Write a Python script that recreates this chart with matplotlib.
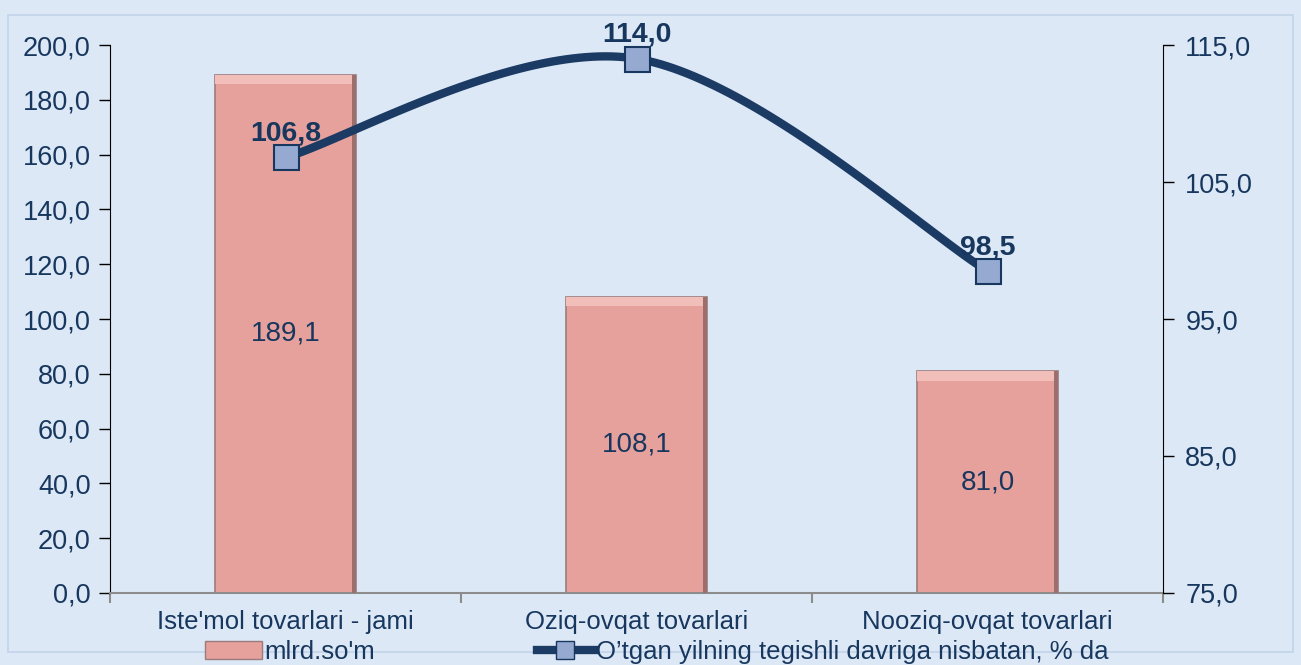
import numpy as np
import matplotlib.pyplot as plt
from matplotlib.patches import Rectangle
from matplotlib.lines import Line2D

# data
categories = ["Iste'mol tovarlari - jami", "Oziq-ovqat tovarlari", "Nooziq-ovqat tovarlari"]
volume = [189.1, 108.1, 81.0]          # mlrd.so'm
growth = [106.8, 114.0, 98.5]          # % to last year
bar_label = "mlrd.so'm"
line_label = "O’tgan yilning tegishli davriga nisbatan, % da"

navy = '#17375E'
line_col = '#1B3A64'
bar_col = '#E7A19D'
bg = '#DCE8F5'

plt.rcParams['font.family'] = ['Liberation Sans', 'DejaVu Sans']


def fmt(v):
    return f'{v:.1f}'.replace('.', ',')


def smooth(xs, ys, n=60, t=0.5):
    # Catmull-Rom style smoothing between the data points
    px = np.r_[xs[0], xs, xs[-1]]
    py = np.r_[ys[0], ys, ys[-1]]
    ox, oy = [], []
    for i in range(1, len(px) - 2):
        p0, p1, p2, p3 = [np.array([px[j], py[j]]) for j in (i - 1, i, i + 1, i + 2)]
        c1 = p1 + (p2 - p0) * t / 3
        c2 = p2 - (p3 - p1) * t / 3
        s = np.linspace(0, 1, n)[:, None]
        b = (1 - s) ** 3 * p1 + 3 * (1 - s) ** 2 * s * c1 + 3 * (1 - s) * s ** 2 * c2 + s ** 3 * p2
        ox.extend(b[:, 0]); oy.extend(b[:, 1])
    return np.array(ox), np.array(oy)


fig = plt.figure(figsize=(13.01, 6.65), dpi=100)
fig.patch.set_facecolor(bg)
fig.patches.append(Rectangle((0.006, 0.02), 0.988, 0.958, transform=fig.transFigure,
                             fill=False, edgecolor='#C2D4EA', lw=1.2))

ax = fig.add_axes([0.0846, 0.1083, 0.8094, 0.824])
ax.set_facecolor('none')
x = np.arange(len(categories))

bars = ax.bar(x, volume, width=0.4, color=bar_col, edgecolor='#9A7C7C', linewidth=1.2, zorder=2)
for b in bars:
    # light bevel on top and shadow on right
    ax.add_patch(Rectangle((b.get_x(), b.get_height() - 3.5), b.get_width(), 3.5,
                           facecolor='#F2BEBA', edgecolor='none', zorder=3))
    ax.add_patch(Rectangle((b.get_x() + b.get_width() * 0.97, 0), b.get_width() * 0.03, b.get_height(),
                           facecolor='#9C6E6C', edgecolor='none', zorder=3))
for xi, v in zip(x, volume):
    ax.text(xi, v / 2, fmt(v), ha='center', va='center', fontsize=20, color=navy, zorder=4)

ax.set_xlim(-0.5, 2.5)
ax.set_ylim(0, 200)
ax.set_yticks(np.arange(0, 201, 20))
ax.set_yticklabels([fmt(v) for v in np.arange(0, 201, 20)], fontsize=19.5, color=navy)
ax.set_xticks([-0.5, 0.5, 1.5, 2.5])
ax.set_xticklabels([])
ax.set_xticks(x, minor=True)
ax.set_xticklabels(categories, minor=True, fontsize=18.5, color=navy)
ax.tick_params(axis='x', which='minor', length=0, pad=12)
ax.tick_params(axis='x', which='major', length=7, color='#8C8C8C', width=1.5)
ax.tick_params(axis='y', length=8, color='black', width=1, pad=6)
ax.spines['top'].set_visible(False)
ax.spines['right'].set_visible(False)
ax.spines['bottom'].set_color('#8C8C8C')
ax.spines['bottom'].set_linewidth(1.5)
ax.spines['left'].set_color('black')

ax2 = ax.twinx()
ax2.set_ylim(75, 115)
ax2.set_yticks(np.arange(75, 116, 10))
ax2.set_yticklabels([fmt(v) for v in np.arange(75, 116, 10)], fontsize=19.5, color=navy)
ax2.tick_params(axis='y', length=8, color='black', width=1, pad=8)
for s in ('top', 'left', 'bottom'):
    ax2.spines[s].set_visible(False)
ax2.spines['right'].set_color('black')

sx, sy = smooth(x.astype(float), np.array(growth))
ax2.plot(sx, sy, color=line_col, lw=6, solid_capstyle='round', zorder=3)
for xi, v in zip(x, growth):
    ax2.text(xi, v + 1.75, fmt(v), ha='center', va='center', fontsize=20.5,
             fontweight='bold', color=navy, zorder=4)
ax2.plot(x, growth, ls='none', marker='s', ms=18, mfc='#95A9D1', mec=navy, mew=1.5, zorder=5)

handles = [Rectangle((0, 0), 1, 1, facecolor=bar_col, edgecolor='#9A7C7C'),
           Line2D([], [], color=line_col, lw=6, marker='s', ms=13, mfc='#95A9D1', mec=navy)]
leg = fig.legend(handles, [bar_label, line_label], loc='lower center', bbox_to_anchor=(0.505, -0.033),
                 ncol=2, frameon=False, handlelength=2.2, handletextpad=0.1, columnspacing=6.3,
                 prop={'size': 18.5})
for t in leg.get_texts():
    t.set_color(navy)

fig.savefig('out.png', dpi=100, facecolor=bg)
